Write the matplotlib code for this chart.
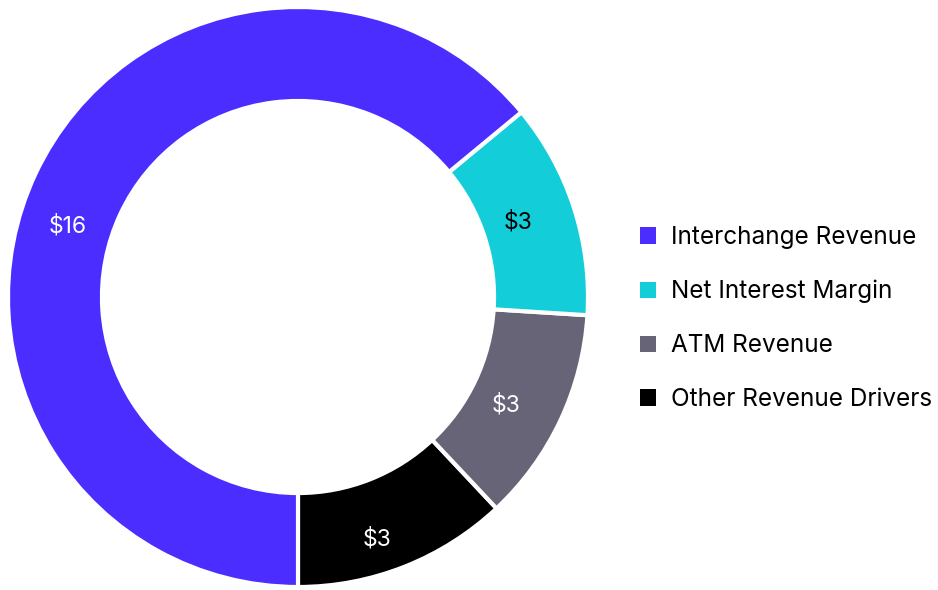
import numpy as np
import matplotlib
matplotlib.use('Agg')
import matplotlib.pyplot as plt

# Revenue mix (drawn counter-clockwise from 6 o'clock)
categories = ['Other Revenue Drivers', 'ATM Revenue', 'Net Interest Margin', 'Interchange Revenue']
values = [3, 3, 3, 16]
labels = ['$3', '$3', '$3', '$16']
colors = ['#000000', '#676477', '#13CDD9', '#4B2EFF']
label_colors = ['white', 'white', 'black', 'white']
# label placement nudges (degrees / radius fraction) to follow the original
label_shift = [-3.5, -2.3, 0.7, 8.0]
label_r = [0.88, 0.81, 0.80, 0.83]

plt.rcParams['font.family'] = ['Inter', 'DejaVu Sans']

fig = plt.figure(figsize=(9.38, 5.9), dpi=100)
ax = fig.add_axes([8 / 938, 3 / 590, 580 / 938, 580 / 590])

wedges, _ = ax.pie(values, colors=colors, startangle=-90, counterclock=True,
                   radius=1.0,
                   wedgeprops=dict(width=0.324, edgecolor='white', linewidth=3))
ax.set_xlim(-1, 1)
ax.set_ylim(-1, 1)
ax.set_aspect('equal')
ax.axis('off')

# value labels in the middle of the ring
for w, lab, c, sh, r in zip(wedges, labels, label_colors, label_shift, label_r):
    ang = np.deg2rad((w.theta1 + w.theta2) / 2 + sh)
    ax.text(r * np.cos(ang), r * np.sin(ang), lab, color=c, fontsize=16.5,
            ha='center', va='center')

# legend in reverse order
leg = fig.legend(wedges[::-1], categories[::-1], loc='center left',
                 bbox_to_anchor=(618 / 938, 0.46), frameon=False,
                 fontsize=17.5, handlelength=0.66, handleheight=0.66,
                 handletextpad=0.62, labelspacing=1.27)
for h in leg.legend_handles:
    h.set_linewidth(0)

fig.savefig('out.png', dpi=100)
